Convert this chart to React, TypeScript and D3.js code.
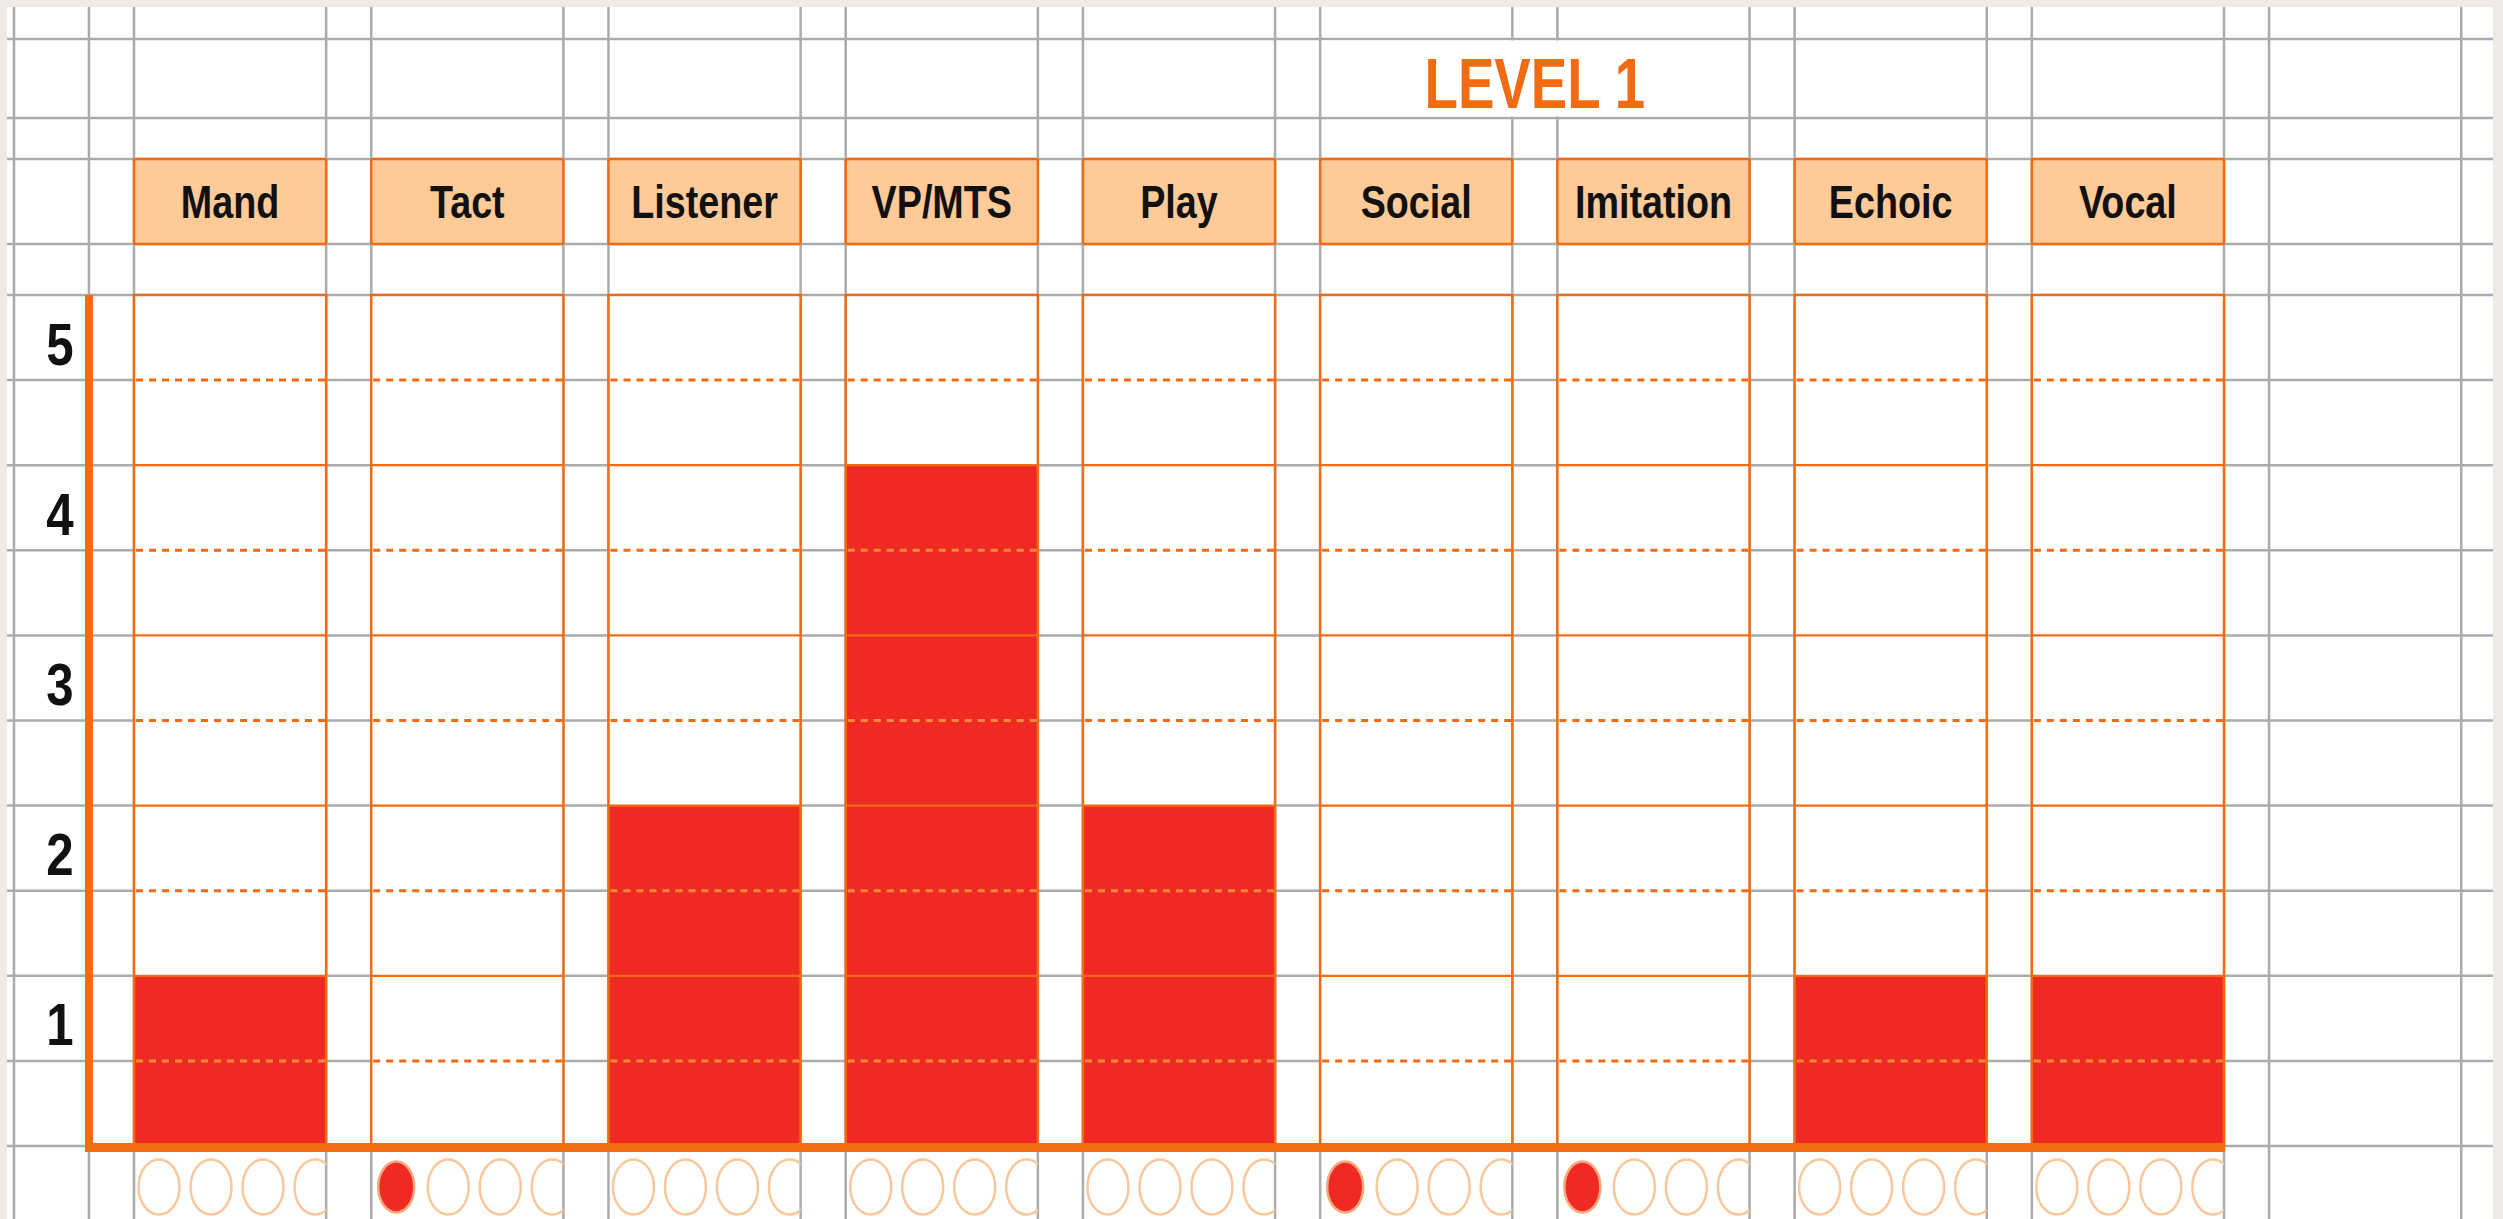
import React from "react";
import * as d3 from "d3";

const categories = ["Mand", "Tact", "Listener", "VP/MTS", "Play", "Social", "Imitation", "Echoic", "Vocal"];
const scores = [1, 0, 2, 4, 2, 0, 0, 1, 1];
const markedCircles = [0, 1, 0, 0, 0, 1, 1, 0, 0];
const yTicks = [1, 2, 3, 4, 5];
const levelTitle = "LEVEL 1";
const circlesPerColumn = 4;

const W = 2503;
const H = 1219;
const ORANGE = "#F26B12";
const RED = "#EE2A22";
const GRAY = "#ababab";
const PEACH = "#FDCA98";
const FONT = "'Liberation Sans', Arial, Helvetica, sans-serif";

export default function App() {
  const x = d3.scaleBand<string>().domain(categories).range([134, 2224]).paddingInner(0.19).paddingOuter(0);
  const y = d3.scaleLinear().domain([0, 5]).range([1146, 295]);
  const step = x.step();
  const bw = x.bandwidth();
  const x0 = x(categories[0]) as number;

  // grid lines
  const vLines: number[] = [14];
  for (let i = -1; i <= categories.length; i++) {
    const l = x0 + i * step;
    if (i >= 0) vLines.push(l);
    vLines.push(l + bw);
  }
  const rowLines = [39, 118, 159, 244];
  const halfLevels = d3.range(0, 5.01, 0.5);
  const hLines = [...rowLines, ...halfLevels.map((v) => y(v))];

  const socialX = x("Social") as number;
  const imitX = x("Imitation") as number;
  const levelCx = (socialX + imitX + bw) / 2;

  const intLevels = [1, 2, 3, 4];
  const dashLevels = [0.5, 1.5, 2.5, 3.5, 4.5];

  return (
    <svg width={W} height={H} style={{ position: "absolute", left: 0, top: 0, display: "block" }} fontFamily={FONT}>
      <defs>
        {categories.map((c, i) => (
          <clipPath id={`clip-${i}`} key={c}>
            <rect x={x(c)} y={1150} width={bw} height={80} />
          </clipPath>
        ))}
      </defs>
      <rect x={0} y={0} width={W} height={H} fill="#eeebe6" />
      <rect x={7} y={7} width={2486} height={H} fill="#ffffff" />

      {/* gray grid */}
      {hLines.map((yy, i) => (
        <line key={`h${i}`} x1={7} x2={2493} y1={yy} y2={yy} stroke={GRAY} strokeWidth={2.5} />
      ))}
      {vLines.map((xx, i) => (
        <line key={`v${i}`} x1={xx} x2={xx} y1={7} y2={H} stroke={GRAY} strokeWidth={2.5} />
      ))}
      {/* merged title cell */}
      <rect x={socialX + 2} y={40.5} width={imitX + bw - socialX - 4} height={76} fill="#ffffff" />
      <text
        transform={`translate(${levelCx},108) scale(0.78,1)`}
        textAnchor="middle"
        fontSize={70}
        fontWeight="bold"
        fill={ORANGE}
      >
        {levelTitle}
      </text>

      {/* header boxes */}
      {categories.map((c) => (
        <g key={`hdr-${c}`}>
          <rect x={x(c)} y={159} width={bw} height={85} rx={2} fill={PEACH} stroke={ORANGE} strokeWidth={2.5} />
          <text
            transform={`translate(${(x(c) as number) + bw / 2},218) scale(0.82,1)`}
            textAnchor="middle"
            fontSize={46}
            fontWeight="bold"
            fill="#111"
          >
            {c}
          </text>
        </g>
      ))}

      {/* columns */}
      {categories.map((c, i) => {
        const cx = x(c) as number;
        return (
          <g key={`col-${c}`}>
            <rect x={cx} y={y(5)} width={bw} height={y(0) - y(5)} fill="#ffffff" />
            {scores[i] > 0 && (
              <rect x={cx} y={y(scores[i])} width={bw} height={y(0) - y(scores[i])} fill={RED} />
            )}
            {intLevels.map((v) => (
              <line key={`i${v}`} x1={cx} x2={cx + bw} y1={y(v)} y2={y(v)} stroke={ORANGE} strokeWidth={2.2} />
            ))}
            {dashLevels.map((v) => (
              <line
                key={`d${v}`}
                x1={cx + 2}
                x2={cx + bw}
                y1={y(v)}
                y2={y(v)}
                stroke={scores[i] > v ? "#F98A3A" : ORANGE}
                strokeWidth={3}
                strokeDasharray="7,6"
              />
            ))}
            <rect x={cx} y={y(5)} width={bw} height={y(0) - y(5)} fill="none" stroke={ORANGE} strokeWidth={2.5} />
          </g>
        );
      })}

      {/* axes */}
      <line x1={89} x2={89} y1={y(5)} y2={y(0) + 6} stroke={ORANGE} strokeWidth={8} />
      <line x1={85} x2={x0 + 8 * step + bw + 1} y1={y(0) + 1.5} y2={y(0) + 1.5} stroke={ORANGE} strokeWidth={9} />

      {yTicks.map((t) => (
        <text
          key={`yt${t}`}
          transform={`translate(60,${y(t - 0.25) + 27}) scale(0.82,1)`}
          textAnchor="middle"
          fontSize={60}
          fontWeight="bold"
          fill="#111"
        >
          {t}
        </text>
      ))}

      {/* bottom circles */}
      {categories.map((c, i) => {
        const cx = x(c) as number;
        return (
          <g key={`circ-${c}`} clipPath={`url(#clip-${i})`}>
            {d3.range(circlesPerColumn).map((k) => {
              const filled = k < markedCircles[i];
              return filled ? (
                <ellipse key={k} cx={cx + 25 + k * 52} cy={1187} rx={18} ry={25.5} fill={RED} stroke="#F9A77C" strokeWidth={2.5} />
              ) : (
                <ellipse key={k} cx={cx + 25 + k * 52} cy={1187} rx={20.5} ry={27.5} fill="none" stroke="#F8C89C" strokeWidth={2.5} />
              );
            })}
          </g>
        );
      })}
    </svg>
  );
}
